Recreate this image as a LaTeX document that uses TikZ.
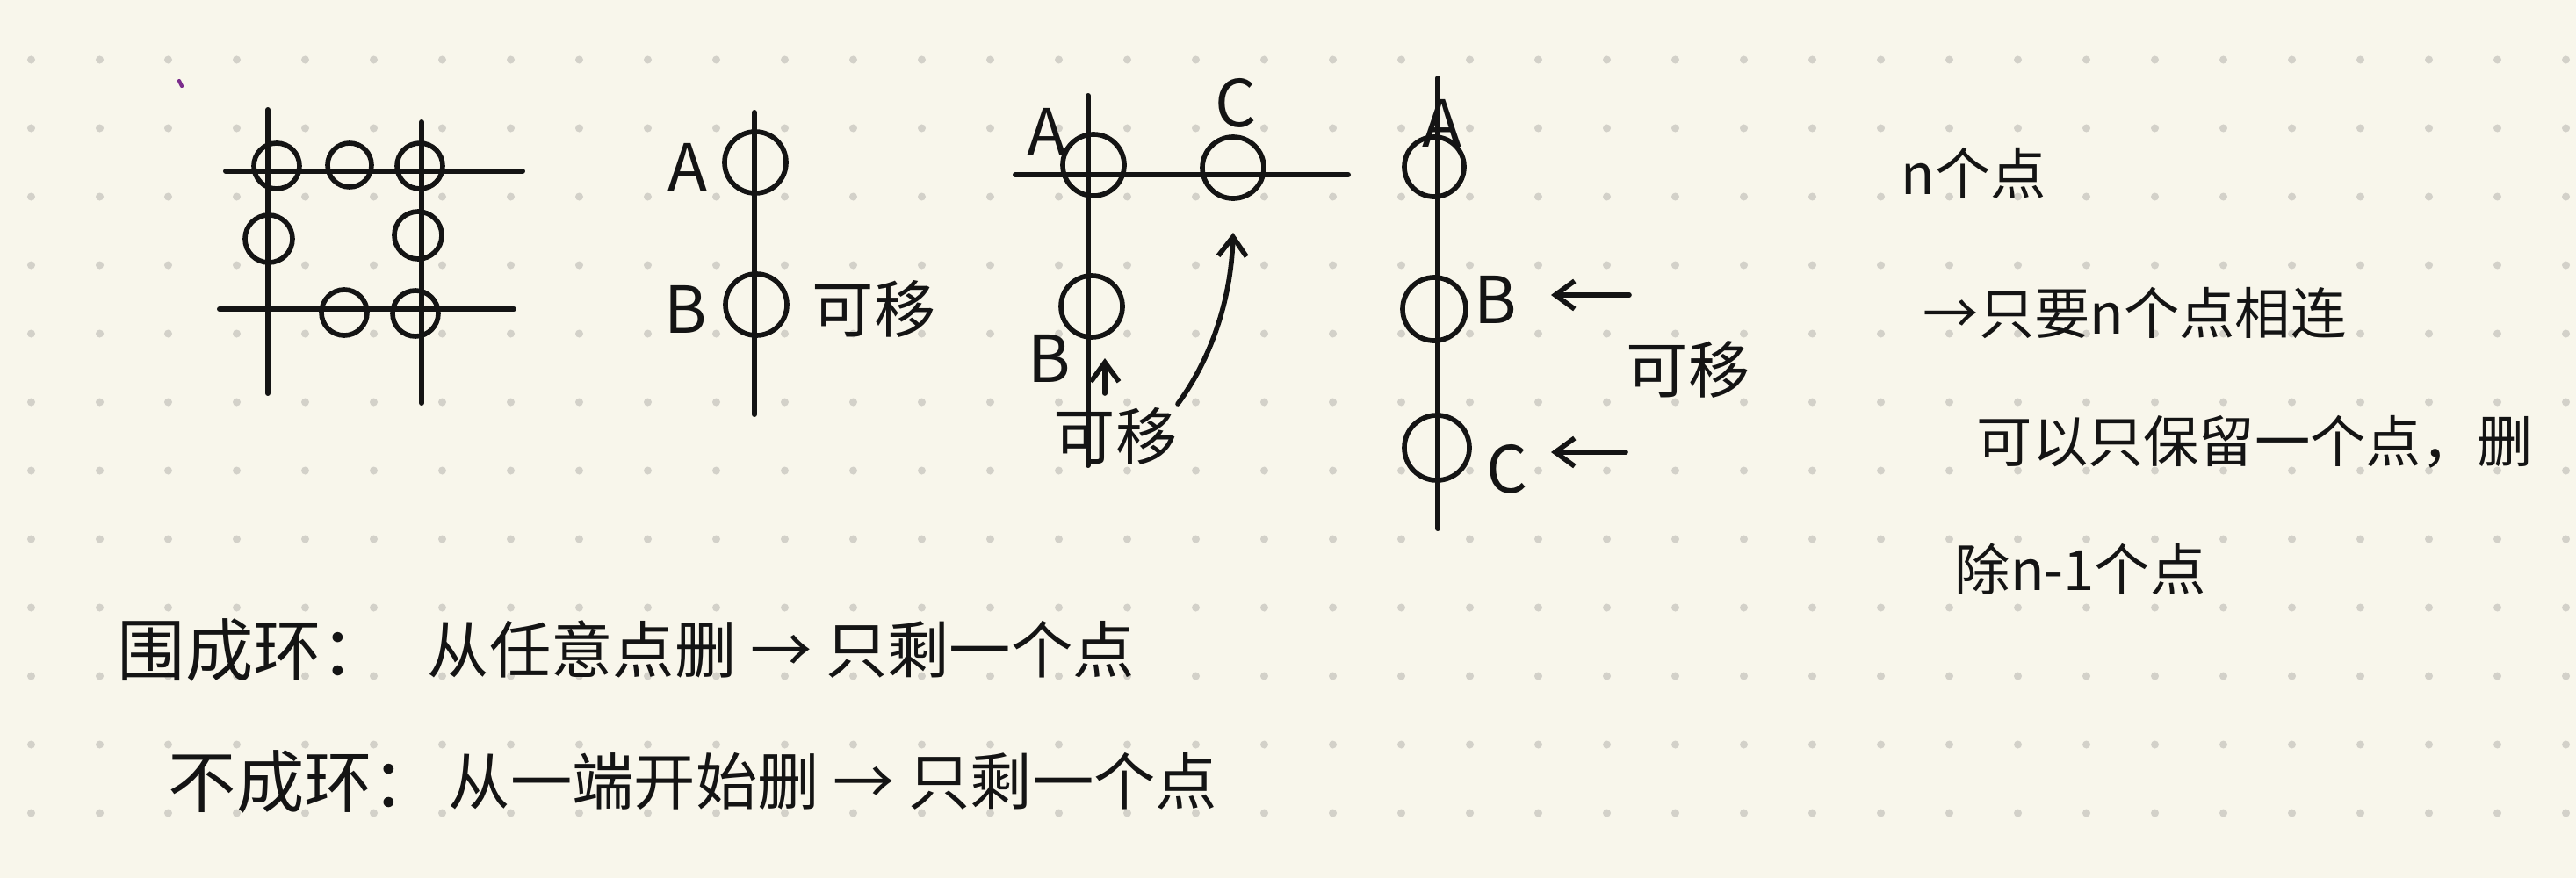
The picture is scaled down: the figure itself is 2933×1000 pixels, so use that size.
\documentclass[tikz,border=0pt]{standalone}
\usepackage{fontspec}
\newfontfamily\hw{Noto Sans CJK SC}
\usetikzlibrary{arrows.meta,positioning}
\definecolor{paper}{HTML}{F8F6EB}
\definecolor{dotc}{HTML}{D3D1C9}
\definecolor{ink}{HTML}{141414}
\definecolor{stray}{HTML}{7B2D8C}
\tikzset{
  ln/.style   ={line width=1.7pt,draw=ink,line cap=round},
  ring/.style ={draw=ink,circle,line width=1.6pt,inner sep=0pt,
                minimum size=#1},
  ring/.default=7mm,
  lbl/.style  ={font=\hw\fontsize{21}{21}\selectfont,text=ink,inner sep=0pt},
  note/.style ={font=\hw\fontsize{20}{20}\selectfont,text=ink,inner sep=0pt,
                anchor=west},
  head/.style ={font=\hw\fontsize{22}{22}\selectfont,text=ink,inner sep=0pt,
                anchor=west},
  side/.style ={font=\hw\fontsize{18}{18}\selectfont,text=ink,inner sep=0pt,
                anchor=west},
  mv/.style   ={font=\hw\fontsize{20}{20}\selectfont,text=ink,inner sep=0pt},
  ar/.style   ={-{Straight Barb[length=2.2mm,width=3.2mm]},line width=1.6pt,
                draw=ink,line cap=round},
}
\newcommand{\mvtxt}{可移}

\begin{document}
\begin{tikzpicture}[x=0.01cm,y=-0.01cm]
\useasboundingbox (0,0) rectangle (2933,1000);
\fill[paper] (0,0) rectangle (2933,1000);
\foreach \i in {0,...,37}
  \foreach \j in {0,...,11}
    \fill[dotc] (35.5+78*\i,68+78*\j) circle (0.045cm);
\draw[stray,line width=1.2pt,line cap=round] (204,92) -- (207,98);

% ring of points
\draw[ln] (305,125) -- (305,448);
\draw[ln] (480,139) -- (480,459);
\draw[ln] (257,195) -- (595,195);
\draw[ln] (250,352) -- (585,352);
\node[ring=5.2mm] (G1) at (315,189) {};
\node[ring=5mm]   (G2) at (398,188) {};
\node[ring=5.2mm] (G3) at (478,189) {};
\node[ring=5.4mm] (G4) at (306,272) {};
\node[ring=5.4mm] (G5) at (476,268) {};
\node[ring=5.2mm] (G6) at (392,356) {};
\node[ring=5.2mm] (G7) at (473,357) {};

% chain of two
\draw[ln] (859,128) -- (859,472);
\node[ring] (A2) at (860,185) {};
\node[ring] (B2) at (861,347) {};
\node[lbl] (LA2) at (783,190) {A};
\node[lbl] (LB2) at (781,352) {B};
\node[mv]  (MV2) at (995,352) {\mvtxt};

% corner
\draw[ln] (1239,109) -- (1239,530);
\draw[ln] (1156,199) -- (1535,199);
\node[ring] (A3) at (1245,188) {};
\node[ring] (C3) at (1404,191) {};
\node[ring] (B3) at (1243,349) {};
\node[lbl] (LA3) at (1192,150) {A};
\node[lbl] (LC3) at (1407,117) {C};
\node[lbl] (LB3) at (1195,408) {B};
\node[mv]  (MV3) at (1270,497) {\mvtxt};
\coordinate (U0) at (1258,448);
\coordinate (U1) at (1258,408);
\draw[ar] (U0) -- (U1);
\coordinate (K0) at (1341,460);
\coordinate (K1) at (1404,265);
\draw[ar] (K0) .. controls (1385,400) and (1402,330) .. (K1);

% chain of three
\draw[ln] (1637,89) -- (1637,602);
\node[ring=6.8mm] (A4) at (1633,190) {};
\node[ring=7.2mm] (B4) at (1633,352) {};
\node[ring=7.4mm] (C4) at (1636,510) {};
\node[lbl] (LA4) at (1642,140) {A};
\node[lbl] (LB4) at (1703,341) {B};
\node[lbl] (LC4) at (1716,534) {C};
\node[mv]  (MV4) at (1922,421) {\mvtxt};
\coordinate (P4B) at (1855,336);
\coordinate (Q4B) at (1766,336);
\coordinate (P4C) at (1851,515);
\coordinate (Q4C) at (1766,515);
\draw[ar] (P4B) -- (Q4B);
\draw[ar] (P4C) -- (Q4C);

% notes on the right
\node[side] (T1) at (2164,197) {n个点};
\node[side] (T2) at (2189,357) {→只要n个点相连};
\node[side] (T3) at (2250,503) {可以只保留一个点，删};
\node[side] (T4) at (2225,648) {除n-1个点};

% notes below
\node[head] (R1) at (133,740) {围成环：};
\node[note] (R2) at (486,740) {从任意点删 → 只剩一个点};
\node[head] (S1) at (191,890) {不成环：};
\node[note] (S2) at (510,890) {从一端开始删 → 只剩一个点};
\end{tikzpicture}
\end{document}
